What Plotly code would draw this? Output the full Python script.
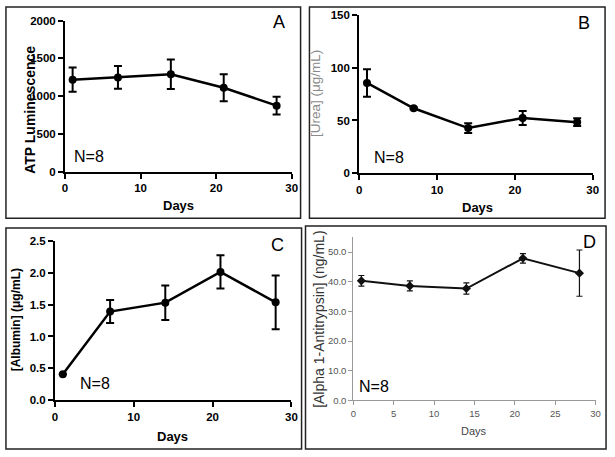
import plotly.graph_objects as go

W, H = 615, 457

days = [1, 7, 14, 21, 28]

atp = [1217, 1247, 1290, 1110, 873]
atp_err = [160, 150, 195, 180, 118]

urea = [85.6, 61.6, 42.8, 52.4, 48.4]
urea_err = [13.0, 1.0, 4.6, 6.6, 3.7]

albumin = [0.41, 1.39, 1.53, 2.01, 1.535]
albumin_err = [0.0, 0.18, 0.27, 0.26, 0.42]

a1at = [40.3, 38.6, 37.7, 47.9, 42.9]
a1at_err = [1.8, 1.7, 1.9, 1.6, 7.8]

prism_ticks_x = [0, 10, 20, 30]
excel_ticks_x = [0, 5, 10, 15, 20, 25, 30]


def px(x):
    return x / W


def py(y):
    return 1 - y / H


fig = go.Figure()

prism_line = dict(color="black", width=2.5)
prism_marker = dict(color="black", size=8, symbol="circle")
prism_err = dict(type="data", thickness=2, width=4, color="black")

fig.add_trace(go.Scatter(x=days, y=atp, mode="lines+markers", line=prism_line, marker=prism_marker,
                         error_y=dict(prism_err, array=atp_err), xaxis="x", yaxis="y", showlegend=False))
fig.add_trace(go.Scatter(x=days, y=urea, mode="lines+markers", line=prism_line, marker=prism_marker,
                         error_y=dict(prism_err, array=urea_err), xaxis="x2", yaxis="y2", showlegend=False))
fig.add_trace(go.Scatter(x=days, y=albumin, mode="lines+markers", line=prism_line, marker=prism_marker,
                         error_y=dict(prism_err, array=albumin_err), xaxis="x3", yaxis="y3", showlegend=False))
fig.add_trace(go.Scatter(x=days, y=a1at, mode="lines+markers", line=dict(color="#111", width=2),
                         marker=dict(color="#111", size=7, symbol="diamond"),
                         error_y=dict(type="data", array=a1at_err, thickness=1.2, width=3, color="#111"),
                         xaxis="x4", yaxis="y4", showlegend=False))

bold_tick = dict(family="Liberation Sans, Arial, sans-serif", size=11.5, color="black", weight="bold")
prism_axis = dict(showline=True, linecolor="black", linewidth=2, ticks="outside", ticklen=5, tickwidth=2,
                  tickcolor="black", showgrid=False, zeroline=False, tickfont=bold_tick)
excel_tick = dict(family="Liberation Sans, Arial, sans-serif", size=9.5, color="#555")
excel_axis = dict(showline=True, linecolor="#999", linewidth=1, ticks="outside", ticklen=4, tickwidth=1,
                  tickcolor="#999", showgrid=False, zeroline=False, tickfont=excel_tick)

fig.update_layout(
    width=W, height=H, autosize=False,
    margin=dict(l=0, r=0, t=0, b=0),
    paper_bgcolor="white", plot_bgcolor="white",
    xaxis=dict(prism_axis, domain=[px(63), px(293)], range=[0, 30], tickvals=prism_ticks_x, anchor="y"),
    yaxis=dict(prism_axis, domain=[py(170), py(15)], range=[0, 2000], tickvals=[0, 500, 1000, 1500, 2000], anchor="x"),
    xaxis2=dict(prism_axis, domain=[px(361.5), px(598.5)], range=[0, 30], tickvals=prism_ticks_x, anchor="y2"),
    yaxis2=dict(prism_axis, domain=[py(171.7), py(9.3)], range=[0, 150], tickvals=[0, 50, 100, 150], anchor="x2"),
    xaxis3=dict(prism_axis, domain=[px(52.7), px(292.7)], range=[0, 30], tickvals=prism_ticks_x, anchor="y3"),
    yaxis3=dict(prism_axis, domain=[py(405), py(241)], range=[0, 2.5], tickvals=[0, 0.5, 1.0, 1.5, 2.0, 2.5],
                tickformat=".1f", anchor="x3"),
    xaxis4=dict(excel_axis, domain=[px(355.5), px(601.4)], range=[0, 30], tickvals=excel_ticks_x, anchor="y4"),
    yaxis4=dict(excel_axis, domain=[py(405), py(237.5)], range=[0, 55], tickvals=[0, 10, 20, 30, 40, 50],
                tickformat=".1f", anchor="x4"),
)

# panel boxes
boxes = [(3, 1, 302, 218), (311, 1, 611, 218), (3, 228, 303, 455), (307, 226, 612, 455)]
for (x0, y0, x1, y1) in boxes:
    fig.add_shape(type="rect", xref="paper", yref="paper", x0=px(x0), x1=px(x1), y0=py(y1), y1=py(y0),
                  line=dict(color="#222", width=1.5), fillcolor="rgba(0,0,0,0)")

F = "Liberation Sans, Arial, sans-serif"


def ann(text, x, y, size, color="black", weight="normal", angle=0):
    fig.add_annotation(text=text, x=px(x), y=py(y), xref="paper", yref="paper", showarrow=False,
                       xanchor="center", yanchor="middle", textangle=angle,
                       font=dict(family=F, size=size, color=color, weight=weight))


# Panel A
ann("ATP Luminescence", 28, 107, 14, weight="bold", angle=-90)
ann("Days", 178, 205, 13, weight="bold")
ann("N=8", 87, 155, 16)
ann("A", 280, 16, 18)

# Panel B
ann("[Urea] (μg/mL)", 317, 90, 13.5, color="#8a8a8a", angle=-90)
ann("Days", 482, 207, 13, weight="bold")
ann("N=8", 392, 156, 16)
ann("B", 590, 17, 18)

# Panel C
ann("[Albumin] (μg/mL)", 13, 322, 12, weight="bold", angle=-90)
ann("Days", 172, 442, 13, weight="bold")
ann("N=8", 93, 388, 16)
ann("C", 279, 245, 18)

# Panel D
ann("[Alpha 1-Antitrypsin] (ng/mL)", 320, 322, 14, color="#333", angle=-90)
ann("Days", 478, 436, 11, color="#444")
ann("N=8", 377, 391, 16)
ann("D", 595, 242, 18)

fig.write_html("out.html", config={"displayModeBar": False, "staticPlot": True},
               post_script="document.body.style.margin='0';document.body.style.overflow='hidden';"
                           "document.documentElement.style.overflow='hidden';")
